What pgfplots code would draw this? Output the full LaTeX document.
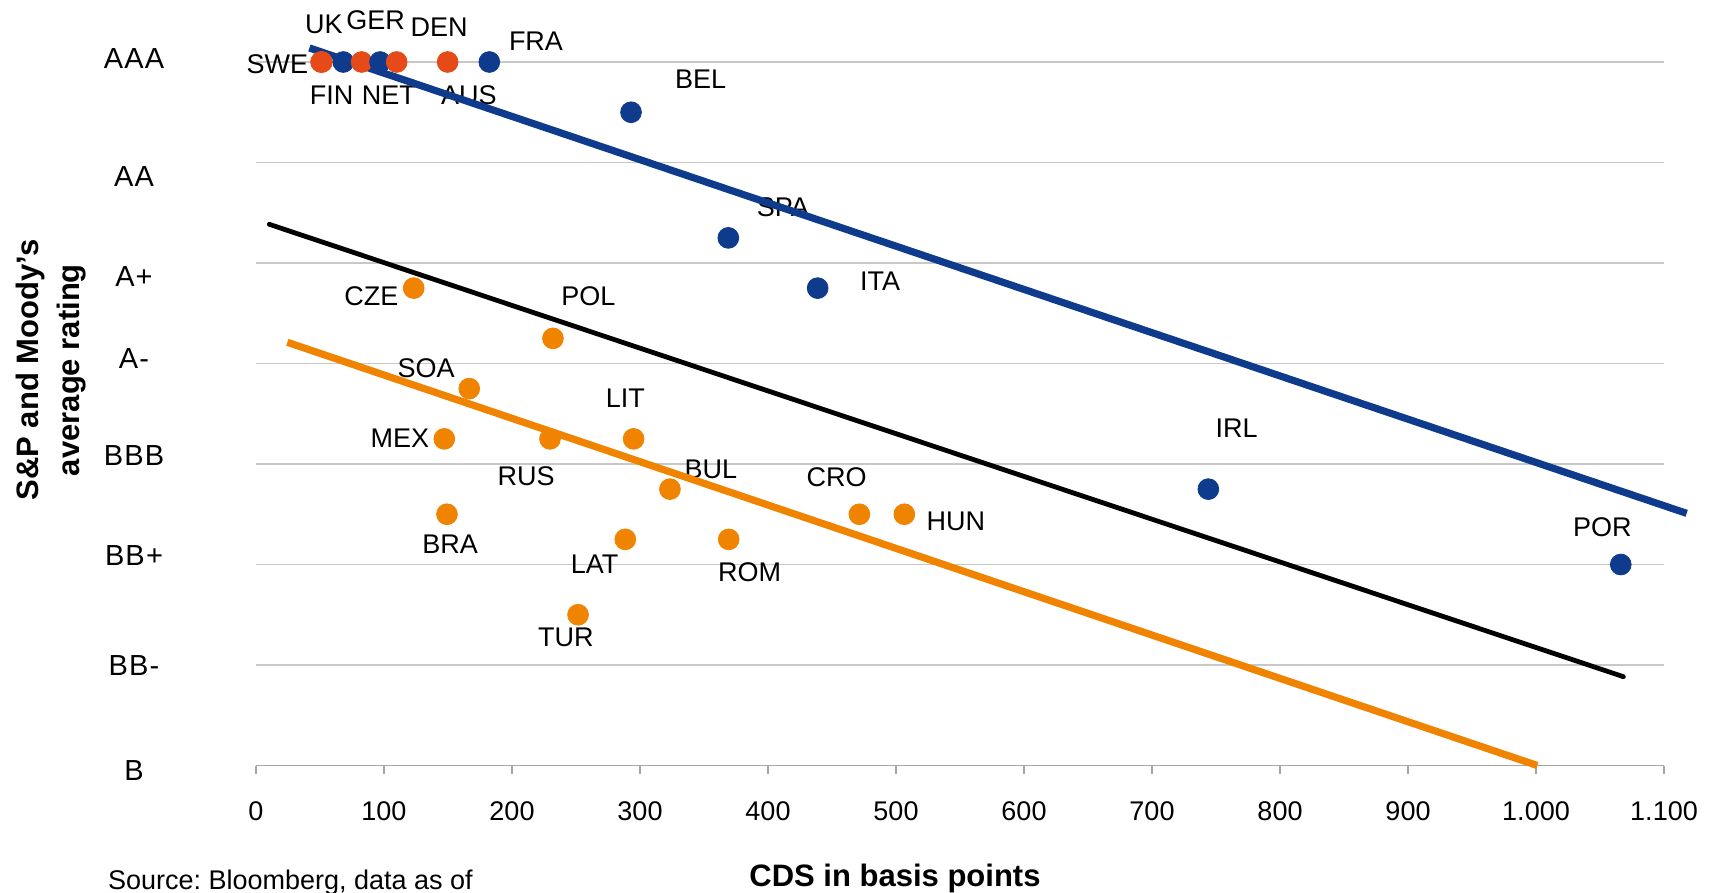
\documentclass[border=0pt]{standalone}
\usepackage{pgfplots}
\usepackage{pgfplotstable}
\pgfplotsset{compat=1.18}
\usepackage{fontspec}
\setmainfont{Liberation Sans}
\newfontfamily\ratingfont[LetterSpace=4]{Liberation Sans}

\definecolor{cblue}{RGB}{14,59,140}
\definecolor{cred}{RGB}{230,74,25}
\definecolor{corange}{RGB}{240,131,0}
\definecolor{cgrid}{RGB}{200,200,200}
\definecolor{caxis}{RGB}{165,165,165}

\newcommand{\lbl}{\fontsize{13.5}{16.2}\selectfont}
\newcommand{\rtg}{\fontsize{14.5}{17.4}\selectfont}
\newcommand{\ttl}{\fontsize{15.5}{20.75}\selectfont\bfseries}
\frenchspacing

% CDS spread (bp) against average S&P/Moody's rating (B = 0 ... AAA = 7)
% class: r = AAA group (red), b = euro area, o = emerging economies
\pgfplotstableread{
x      y     c  name
50.8   7     r  SWE
51.5   7     r  UK
68.2   7     b  FIN
82.5   7     r  GER
96.9   7     b  NET
109.9  7     r  DEN
149.7  7     r  AUS
182.3  7     b  FRA
293.0  6.5   b  BEL
369.0  5.25  b  SPA
438.8  4.75  b  ITA
744.0  2.75  b  IRL
1066.2 2.0   b  POR
123.2  4.75  o  CZE
232.0  4.25  o  POL
166.6  3.75  o  SOA
147.1  3.25  o  MEX
229.7  3.25  o  RUS
295.0  3.25  o  LIT
323.4  2.75  o  BUL
149.2  2.5   o  BRA
471.4  2.5   o  CRO
506.5  2.5   o  HUN
288.5  2.25  o  LAT
369.3  2.25  o  ROM
251.6  1.5   o  TUR
}\cds

\begin{document}
\begin{tikzpicture}
\begin{axis}[
  scale only axis,
  width=704pt, height=351.75pt,
  xmin=0, xmax=1100, ymin=0, ymax=7,
  clip=false,
  axis lines*=left,
  y axis line style={draw=none},
  x axis line style={caxis, line width=0.8pt},
  xtick={0,100,...,1100},
  ytick={0,1,...,7},
  yticklabels={},
  ytick style={draw=none},
  xtick style={caxis, line width=0.8pt},
  tick align=outside,
  major tick length=4pt,
  ymajorgrids,
  grid style={cgrid, line width=0.8pt},
  /pgf/number format/assume math mode=true,
  /pgf/number format/1000 sep={.},
  xticklabel style={font=\lbl, anchor=center, yshift=-19.1pt},
]
\coordinate (o) at (rel axis cs:0,0);

% country markers
\addplot[
  only marks, scatter, scatter src=explicit symbolic,
  mark=*, mark size=5.2pt,
  scatter/classes={
    r={mark=*, cred, fill=cred},
    b={mark=*, cblue, fill=cblue},
    o={mark=*, corange, fill=corange}},
] table[x=x, y=y, meta=c] {\cds};

% rating scale
\begin{scope}[every node/.style={font=\rtg\ratingfont, anchor=center}]
\node at ([xshift=-61pt]axis cs:0,7.03)  {AAA};
\node at ([xshift=-61pt]axis cs:0,5.863) {AA};
\node at ([xshift=-61pt]axis cs:0,4.866) {A+};
\node at ([xshift=-61pt]axis cs:0,4.053) {A-};
\node at ([xshift=-61pt]axis cs:0,3.082) {BBB};
\node at ([xshift=-61pt]axis cs:0,2.086) {BB+};
\node at ([xshift=-61pt]axis cs:0,0.997) {BB-};
\node at ([xshift=-61pt]axis cs:0,-0.05) {B};
\end{scope}

% country names
\begin{scope}[every node/.style={font=\lbl, anchor=center, inner sep=0pt}]
\node at (axis cs:53.1,7.378)  {UK};
\node at (axis cs:93.4,7.42)   {GER};
\node at (axis cs:143,7.35)    {DEN};
\node at (axis cs:218.75,7.21) {FRA};
\node at (axis cs:16.7,6.983)  {SWE};
\node at (axis cs:59.1,6.672)  {FIN};
\node at (axis cs:103.75,6.672){NET};
\node at (axis cs:166.4,6.672) {AUS};
\node at (axis cs:347.3,6.83)  {BEL};
\node at (axis cs:411.7,5.56)  {SPA};
\node at (axis cs:487.5,4.814) {ITA};
\node at (axis cs:90.1,4.665)  {CZE};
\node at (axis cs:259.6,4.665) {POL};
\node at (axis cs:133,3.952)   {SOA};
\node at (axis cs:112.5,3.256) {MEX};
\node at (axis cs:211,2.874)   {RUS};
\node at (axis cs:288.5,3.654) {LIT};
\node at (axis cs:355.3,2.947) {BUL};
\node at (axis cs:151.6,2.204) {BRA};
\node at (axis cs:264.6,2.005) {LAT};
\node at (axis cs:385.7,1.928) {ROM};
\node at (axis cs:242,1.272)   {TUR};
\node at (axis cs:453.7,2.868) {CRO};
\node at (axis cs:546.7,2.426) {HUN};
\node at (axis cs:766.2,3.355) {IRL};
\node at (axis cs:1051.8,2.376){POR};
\end{scope}

% fitted lines
\addplot[cblue, line width=3.6pt] coordinates {(41.7,7.14) (1117.7,2.509)};
\addplot[black, line width=2.4pt, line cap=round] coordinates {(10.4,5.385) (1068.2,0.884)};
\addplot[corange, line width=3.6pt] coordinates {(24.5,4.211) (1001,0)};

% titles
\node[font=\ttl, rotate=90, align=center, anchor=center]
  at ([xshift=-102.4pt]axis cs:0,3.935) {S\&P and Moody's\\average rating};
\node[font=\ttl, anchor=base] at ([yshift=-60.25pt]axis cs:499.2,0) {CDS in basis points};
\node[font=\lbl, anchor=base west] at ([xshift=-77.5pt,yshift=-62pt]axis cs:0,0) {Source: Bloomberg, data as of};
\end{axis}
\pgfresetboundingbox
\path[use as bounding box] ([xshift=-128pt,yshift=-63.75pt]o) rectangle ++(861pt,446.5pt);
\end{tikzpicture}
\end{document}
